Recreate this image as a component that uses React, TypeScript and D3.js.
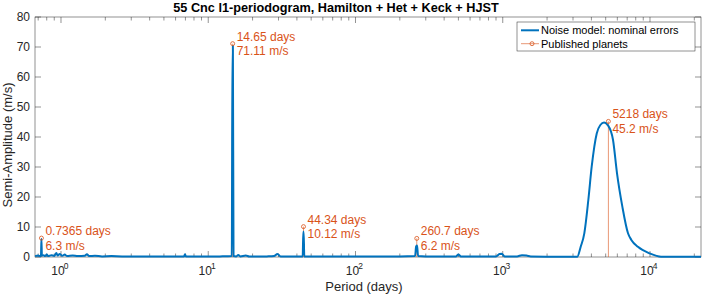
import React, { useEffect } from 'react';
import * as d3 from 'd3';

// periodogram curve: [period (days), semi-amplitude (m/s)]
const noiseModel: [number, number][] = [
  [0.667, 0.3], [0.7, 0.5], [0.72, 0.3], [0.731, 0.4], [0.7365, 6.0], [0.742, 0.4],
  [0.76, 0.6], [0.78, 0.3], [0.8, 0.8], [0.82, 0.3], [0.86, 0.6], [0.9, 0.4],
  [0.93, 1.3], [0.95, 0.5], [0.98, 1.0], [1.02, 0.4], [1.06, 0.8], [1.1, 0.3],
  [1.2, 0.5], [1.3, 0.3], [1.45, 0.4], [1.5, 0.9], [1.55, 0.3], [1.7, 0.4],
  [1.9, 0.2], [2.2, 0.3], [2.6, 0.2], [3, 0.2], [4, 0.15], [5, 0.2],
  [6.85, 0.2], [6.95, 0.9], [7.05, 0.2], [9, 0.15], [10, 0.15], [12, 0.2],
  [14.45, 0.3], [14.6, 70.3], [14.7, 70.3], [14.85, 0.3], [15.5, 0.2], [16, 0.7], [16.5, 0.2],
  [18, 0.5], [19, 0.2], [22, 0.15], [25, 0.2], [28, 0.3], [29.5, 1.0], [31, 0.2],
  [40, 0.2], [43.8, 0.2], [44.2, 8.4], [44.45, 8.4], [44.9, 0.2], [60, 0.2], [100, 0.15],
  [150, 0.2], [200, 0.2], [254, 0.3], [258, 3.5], [262, 3.8], [266, 0.3],
  [300, 0.2], [480, 0.2], [500, 0.8], [520, 0.2], [700, 0.15], [900, 0.2],
  [950, 1.0], [985, 1.1], [1030, 0.2], [1250, 0.2], [1350, 0.6], [1450, 0.5],
  [1550, 0.2], [2500, 0.1], [3207, 0.1], [3383, 3.4], [3580, 7.9], [3812, 19],
  [4018, 30.1], [4348, 41.2], [4600, 44], [4874, 44.8], [5200, 43.8], [5610, 39],
  [5970, 27.9], [6490, 16.8], [7090, 7.9], [7470, 5.7], [8280, 3.4], [9950, 1.2],
  [11880, 0.1], [22200, 0.1]
];

const planetPeriods = [0.7365, 14.65, 44.34, 260.7, 5218];
const planetAmps = [6.3, 71.11, 10.12, 6.2, 45.2];
const planetDayLabels = ['0.7365 days', '14.65 days', '44.34 days', '260.7 days', '5218 days'];
const planetAmpLabels = ['6.3 m/s', '71.11 m/s', '10.12 m/s', '6.2 m/s', '45.2 m/s'];

const yTicks = [0, 10, 20, 30, 40, 50, 60, 70, 80];
const xMajorExps = [0, 1, 2, 3, 4];

const legendLabels = ['Noise model: nominal errors', 'Published planets'];

const BLUE = '#0072BD';
const ORANGE = '#D95319';
const AX = '#262626';
const FONT = '"Liberation Sans", Arial, Helvetica, sans-serif';

const App = () => {
  useEffect(() => {
    document.body.style.margin = '0';
  }, []);

  const width = 703;
  const height = 295;
  const left = 35, right = 701, top = 17, bottom = 257;

  const x = d3.scaleLog().domain([0.666, 22200]).range([left, right]);
  const y = d3.scaleLinear().domain([0, 80]).range([bottom, top]);

  const line = d3.line<[number, number]>()
    .x(d => x(d[0]))
    .y(d => y(d[1]))
    .curve(d3.curveMonotoneX);

  // minor ticks 2..9 in each decade
  const minorTicks: number[] = [];
  for (let e = -1; e <= 4; e++) {
    for (let k = 2; k <= 9; k++) {
      const v = k * Math.pow(10, e);
      if (v > 0.666 && v < 22200) minorTicks.push(v);
    }
  }

  return (
    <svg width={width} height={height} style={{ display: 'block', background: '#fff' }}
      fontFamily={FONT}>
      <rect x={0} y={0} width={width} height={height} fill="#fff" />

      {/* title */}
      <text x={336} y={12} textAnchor="middle" fontSize={12.7} fontWeight="bold" fill="#000">
        55 Cnc l1-periodogram, Hamilton + Het + Keck + HJST
      </text>

      {/* axes box */}
      <rect x={left} y={top} width={right - left} height={bottom - top}
        fill="none" stroke={AX} strokeWidth={0.5} />

      {/* y ticks */}
      {yTicks.map(t => (
        <g key={'y' + t}>
          <line x1={left} x2={left + 6} y1={y(t)} y2={y(t)} stroke={AX} strokeWidth={0.5} />
          <line x1={right} x2={right - 6} y1={y(t)} y2={y(t)} stroke={AX} strokeWidth={0.5} />
          <text x={left - 5} y={y(t)} dy="0.35em" textAnchor="end" fontSize={12} fill={AX}>{t}</text>
        </g>
      ))}

      {/* x ticks */}
      {minorTicks.map(v => (
        <g key={'m' + v}>
          <line x1={x(v)} x2={x(v)} y1={bottom} y2={bottom - 3.5} stroke={AX} strokeWidth={0.5} />
          <line x1={x(v)} x2={x(v)} y1={top} y2={top + 3.5} stroke={AX} strokeWidth={0.5} />
        </g>
      ))}
      {xMajorExps.map(e => {
        const v = Math.pow(10, e);
        return (
          <g key={'M' + e}>
            <line x1={x(v)} x2={x(v)} y1={bottom} y2={bottom - 6} stroke={AX} strokeWidth={0.5} />
            <line x1={x(v)} x2={x(v)} y1={top} y2={top + 6} stroke={AX} strokeWidth={0.5} />
            <text x={x(v) - 3} y={275} textAnchor="middle" fontSize={12} fill={AX}>10</text>
            <text x={x(v) + 5} y={268.5} textAnchor="middle" fontSize={8.5} fill={AX}>{e}</text>
          </g>
        );
      })}

      {/* axis labels */}
      <text x={364} y={291} textAnchor="middle" fontSize={13} fill={AX}>Period (days)</text>
      <text transform={`translate(12, ${(top + bottom) / 2 + 8}) rotate(-90)`} textAnchor="middle"
        fontSize={13} fill={AX}>Semi-Amplitude (m/s)</text>

      {/* published planet stems (under the periodogram) */}
      {planetPeriods.map((p, i) => (
        <line key={'s' + i} x1={x(p)} x2={x(p)} y1={y(0)} y2={y(planetAmps[i])}
          stroke={ORANGE} strokeWidth={0.6} />
      ))}

      {/* periodogram */}
      <path d={line(noiseModel) || ''} fill="none" stroke={BLUE} strokeWidth={2}
        strokeLinejoin="round" />

      {/* published planet markers and labels */}
      {planetPeriods.map((p, i) => (
        <g key={'p' + i}>
          <circle cx={x(p)} cy={y(planetAmps[i])} r={2} fill="none" stroke={ORANGE} strokeWidth={0.8} />
          <text x={x(p) + 4} y={y(planetAmps[i]) - 3} fontSize={12} fill={ORANGE}>{planetDayLabels[i]}</text>
          <text x={x(p) + 4} y={y(planetAmps[i]) + 11.5} fontSize={12} fill={ORANGE}>{planetAmpLabels[i]}</text>
        </g>
      ))}

      {/* legend */}
      <g>
        <rect x={517} y={22} width={178} height={29} fill="#fff" stroke={AX} strokeWidth={0.5} />
        <line x1={521} x2={539} y1={30.3} y2={30.3} stroke={BLUE} strokeWidth={2} />
        <text x={541} y={30.3} dy="0.35em" fontSize={11} fill="#000">{legendLabels[0]}</text>
        <line x1={521} x2={539} y1={43.7} y2={43.7} stroke={ORANGE} strokeWidth={0.6} />
        <circle cx={532} cy={43.7} r={2} fill="none" stroke={ORANGE} strokeWidth={0.8} />
        <text x={541} y={43.7} dy="0.35em" fontSize={11} fill="#000">{legendLabels[1]}</text>
      </g>
    </svg>
  );
};

export default App;
